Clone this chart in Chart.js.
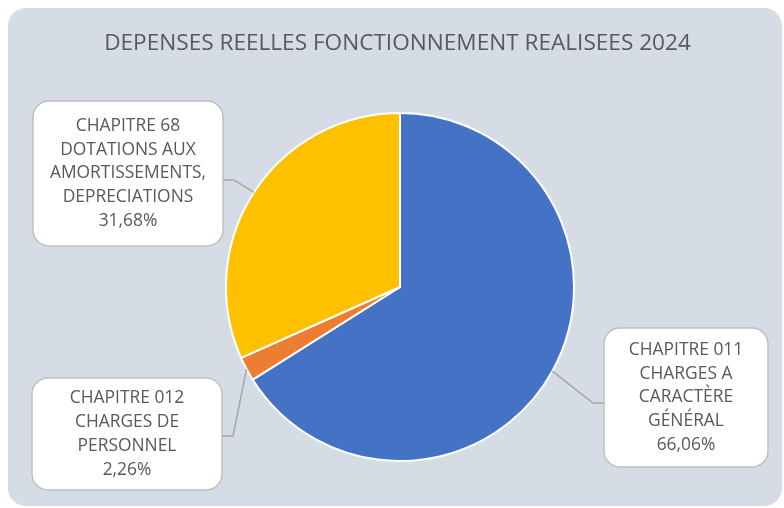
<!DOCTYPE html>
<html lang="fr">
<head>
<meta charset="utf-8">
<title>Dépenses réelles de fonctionnement 2024</title>
<script src="https://cdn.jsdelivr.net/npm/chart.js@4.4.1/dist/chart.umd.min.js"></script>
<style>
  html, body { margin: 0; padding: 0; background: #fff; }
  #wrap { width: 784px; height: 508px; }
</style>
</head>
<body>
<div id="wrap"><canvas id="chart" width="784" height="508"></canvas></div>
<script>
const chartTitle = "DEPENSES REELLES FONCTIONNEMENT REALISEES 2024";
const categories = [
  ["CHAPITRE 011", "CHARGES A", "CARACTÈRE", "GÉNÉRAL"],
  ["CHAPITRE 012", "CHARGES DE", "PERSONNEL"],
  ["CHAPITRE 68", "DOTATIONS AUX", "AMORTISSEMENTS,", "DEPRECIATIONS"]
];
const shares = [66.06, 2.26, 31.68];
const sliceColors = ["#4472c4", "#ed7d31", "#ffc000"];

// callout boxes, one per slice (left/top/width/height, side the leader enters from)
const boxes = [
  { x: 604, y: 328, w: 164, h: 139, side: "left",  elbowY: 403 },
  { x: 32,  y: 378, w: 190, h: 112, side: "right", elbowY: 436 },
  { x: 33,  y: 101, w: 190, h: 145, side: "right", elbowY: 180 }
];

const FONT = "'Open Sans', sans-serif";
const TEXT = "#595959";

function roundRect(ctx, x, y, w, h, r) {
  ctx.beginPath();
  ctx.moveTo(x + r, y);
  ctx.arcTo(x + w, y, x + w, y + h, r);
  ctx.arcTo(x + w, y + h, x, y + h, r);
  ctx.arcTo(x, y + h, x, y, r);
  ctx.arcTo(x, y, x + w, y, r);
  ctx.closePath();
}

const calloutPlugin = {
  id: "callouts",
  beforeDraw(chart) {
    const ctx = chart.ctx;
    ctx.save();
    ctx.fillStyle = "#ffffff";
    ctx.fillRect(0, 0, chart.width, chart.height);
    roundRect(ctx, 8, 8, chart.width - 10, chart.height - 10, 18);
    ctx.fillStyle = "#d6dce5";
    ctx.fill();
    // title across the full card width
    ctx.fillStyle = TEXT;
    ctx.font = "22.6px " + FONT;
    ctx.textAlign = "center";
    ctx.textBaseline = "middle";
    ctx.fillText(chartTitle, 397.5, 44);
    ctx.restore();
  },
  afterDatasetsDraw(chart) {
    const ctx = chart.ctx;
    const meta = chart.getDatasetMeta(0);
    meta.data.forEach((arc, i) => {
      const p = arc.getProps(["x", "y", "startAngle", "endAngle", "outerRadius"], true);
      const mid = (p.startAngle + p.endAngle) / 2;
      const ax = p.x + Math.cos(mid) * p.outerRadius;
      const ay = p.y + Math.sin(mid) * p.outerRadius;
      const b = boxes[i];
      const edgeX = b.side === "right" ? b.x + b.w : b.x;
      const elbowX = b.side === "right" ? edgeX + 11 : edgeX - 11;

      ctx.save();
      // leader line
      ctx.strokeStyle = "#a6a6a6";
      ctx.lineWidth = 1.5;
      ctx.beginPath();
      ctx.moveTo(ax, ay);
      ctx.lineTo(elbowX, b.elbowY);
      ctx.lineTo(edgeX, b.elbowY);
      ctx.stroke();

      // box
      roundRect(ctx, b.x, b.y, b.w, b.h, 16);
      ctx.fillStyle = "#ffffff";
      ctx.fill();
      ctx.strokeStyle = "#bfbfbf";
      ctx.lineWidth = 1.5;
      ctx.stroke();

      // text
      const lines = categories[i].concat([chart.data.datasets[0].data[i].toFixed(2).replace(".", ",") + "%"]);
      const lh = 23.8;
      const cx = b.x + b.w / 2;
      const top = b.y + b.h / 2 - (lines.length - 1) * lh / 2;
      ctx.fillStyle = TEXT;
      ctx.font = "17.4px " + FONT;
      ctx.textAlign = "center";
      ctx.textBaseline = "middle";
      lines.forEach((t, k) => ctx.fillText(t, cx, top + k * lh));
      ctx.restore();
    });
  }
};

new Chart(document.getElementById("chart"), {
  type: "pie",
  data: {
    labels: categories.map(c => c.join(" ")),
    datasets: [{
      data: shares,
      backgroundColor: sliceColors,
      borderColor: "#ffffff",
      borderWidth: 2
    }]
  },
  options: {
    responsive: false,
    animation: false,
    layout: { padding: { top: 112, left: 225, right: 209, bottom: 46 } },
    plugins: {
      legend: { display: false },
      tooltip: { enabled: false },
      title: { display: false }
    }
  },
  plugins: [calloutPlugin]
});
</script>
</body>
</html>
